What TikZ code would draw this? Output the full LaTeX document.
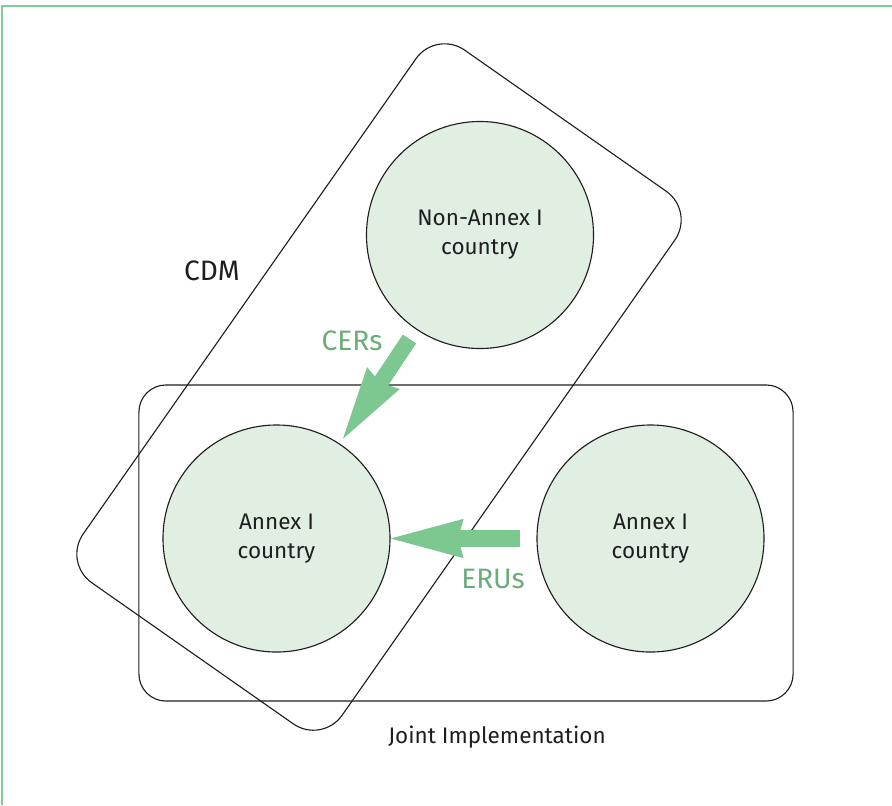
\documentclass[tikz,border=0pt]{standalone}
\usepackage{fontspec}
\setmainfont{Fira Sans}
\usetikzlibrary{arrows.meta}

\definecolor{framegreen}{RGB}{128,204,148}
\definecolor{flowgreen}{RGB}{125,200,145}
\definecolor{taggreen}{RGB}{108,172,122}
\definecolor{countryfill}{RGB}{225,239,227}
\definecolor{ink}{RGB}{30,30,30}

\begin{document}
\begin{tikzpicture}[x=0.025cm, y=-0.025cm]
\tikzset{
  frame/.style={
    framegreen,
    line width=2pt
  },
  country/.style={
    circle,
    draw=ink,
    line width=0.8pt,
    fill=countryfill,
    minimum size=5.675cm,
    inner sep=0pt,
    align=center,
    text=ink,
    font=\fontsize{16}{20.6}\selectfont
  },
  region/.style={
    draw=ink,
    line width=0.8pt,
    inner sep=0pt
  },
  flow/.style={
    flowgreen,
    line width=11.4pt,
    -{Stealth[length=52pt, width=28pt, inset=4pt, line width=0pt]}
  },
  tag/.style={
    text=ink
  },
  flowtag/.style={
    text=taggreen,
    font=\fontsize{20}{24}\selectfont
  }
}

\useasboundingbox (0,0) rectangle (892,805);

% Frame
\draw[frame] (2,805) -- (2,6) -- (892,6);

% Regions
\node (cdm) [region, rotate=55, minimum width=16.25cm, minimum height=7.9cm,
  rounded corners=0.875cm] at (379,387) {};
\node (ji) [region, minimum width=16.35cm, minimum height=7.9cm,
  rounded corners=0.675cm] at (466,543) {};

\node (cdmtag) [tag, font=\fontsize{20}{24}\selectfont] at (212,271) {CDM};
\node (jitag) [tag, font=\fontsize{16}{20}\selectfont] at (497,737) {Joint Implementation};

% Countries
\node (country0) [country] at (480,235) {Non-Annex I\\country};
\node (country1) [country] at (276.5,538.5) {Annex I\\country};
\node (country2) [country] at (650.5,538.5) {Annex I\\country};

% Transfers
\coordinate (cerstart) at (409.5,339);
\coordinate (erustart) at (520,538.5);
\draw[flow, shorten >=4pt] (cerstart) -- (country1);
\draw[flow] (erustart) -- (country1);

\node (certag) [flowtag] at (352,341) {CERs};
\node (erutag) [flowtag] at (493,579) {ERUs};

\end{tikzpicture}
\end{document}
